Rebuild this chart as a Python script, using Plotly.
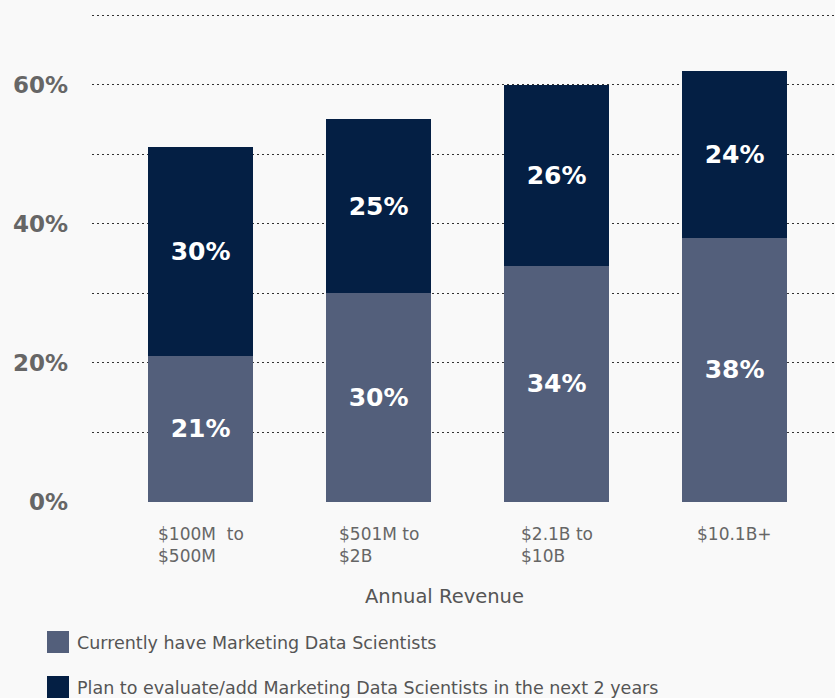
import plotly.graph_objects as go

# data
categories = ["$100M  to<br>$500M", "$501M to<br>$2B", "$2.1B to<br>$10B", "$10.1B+"]
series_names = [
    "Currently have Marketing Data Scientists",
    "Plan to evaluate/add Marketing Data Scientists in the next 2 years",
]
have_now = [21, 30, 34, 38]
plan_to_add = [30, 25, 26, 24]
y_ticks = [0, 20, 40, 60]

colors = ["#535f7b", "#041f44"]
font_family = "DejaVu Sans"
bg = "#f9f9f9"
grid_dash = "2px,3px"

W, H = 835, 698
M_L, M_R, M_T, M_B = 92, 0, 13, 196
plot_w = W - M_L - M_R
plot_h = H - M_T - M_B


def px_x(px):
    return (px - M_L) / plot_w


def px_y(py):
    return (H - M_B - py) / plot_h


x_idx = list(range(len(categories)))

fig = go.Figure()
for name, vals, col in zip(series_names, [have_now, plan_to_add], colors):
    fig.add_trace(go.Bar(
        x=x_idx,
        y=vals,
        name=name,
        marker_color=col,
        marker_line_width=0,
        text=[f"{v}%" for v in vals],
        textposition="inside",
        insidetextanchor="middle",
        textfont=dict(family=font_family, size=25, color="white", weight="bold"),
        showlegend=False,
    ))

fig.update_layout(
    barmode="stack",
    bargap=0.41,
    width=W,
    height=H,
    margin=dict(l=M_L, r=M_R, t=M_T, b=M_B),
    paper_bgcolor=bg,
    plot_bgcolor=bg,
    font=dict(family=font_family, color="#666666"),
    uniformtext=dict(mode=False),
)

fig.update_xaxes(
    range=[-0.61, -0.61 + plot_w / 178],
    showticklabels=False,
    showgrid=False,
    zeroline=False,
)
fig.update_yaxes(
    range=[0, 70.3],
    tickvals=y_ticks,
    ticktext=[f"{t}%" for t in y_ticks],
    tickfont=dict(family=font_family, size=23, color="#666666", weight="bold"),
    ticklabelstandoff=23,
    showgrid=True,
    gridcolor="#333333",
    griddash=grid_dash,
    gridwidth=1,
    minor=dict(dtick=10, showgrid=True, gridcolor="#333333", griddash=grid_dash, gridwidth=1),
    zeroline=False,
)

# category labels, left aligned lines under each bar
for i, cat in enumerate(categories):
    fig.add_annotation(
        x=i, y=0, xref="x", yref="y",
        text=cat, showarrow=False,
        xanchor="center", yanchor="top", align="left",
        yshift=-20,
        font=dict(family=font_family, size=17, color="#666666"),
    )

fig.add_annotation(
    x=px_x(444), y=px_y(596), xref="paper", yref="paper",
    text="Annual Revenue", showarrow=False,
    xanchor="center", yanchor="middle",
    font=dict(family=font_family, size=19.5, color="#555555"),
)

# legend drawn by hand to get the large swatches
for k, (name, col) in enumerate(zip(series_names, colors)):
    top = 631 + 45 * k
    fig.add_shape(
        type="rect", xref="paper", yref="paper",
        x0=px_x(47), x1=px_x(69), y0=px_y(top), y1=px_y(top + 22),
        fillcolor=col, line_width=0,
    )
    fig.add_annotation(
        x=px_x(75), y=px_y(top + 12), xref="paper", yref="paper",
        text=name, showarrow=False,
        xanchor="left", yanchor="middle",
        font=dict(family=font_family, size=17.5, color="#555555"),
    )

fig.write_html(
    "out.html",
    config={"displayModeBar": False},
    post_script="document.body.style.margin='0';",
)
